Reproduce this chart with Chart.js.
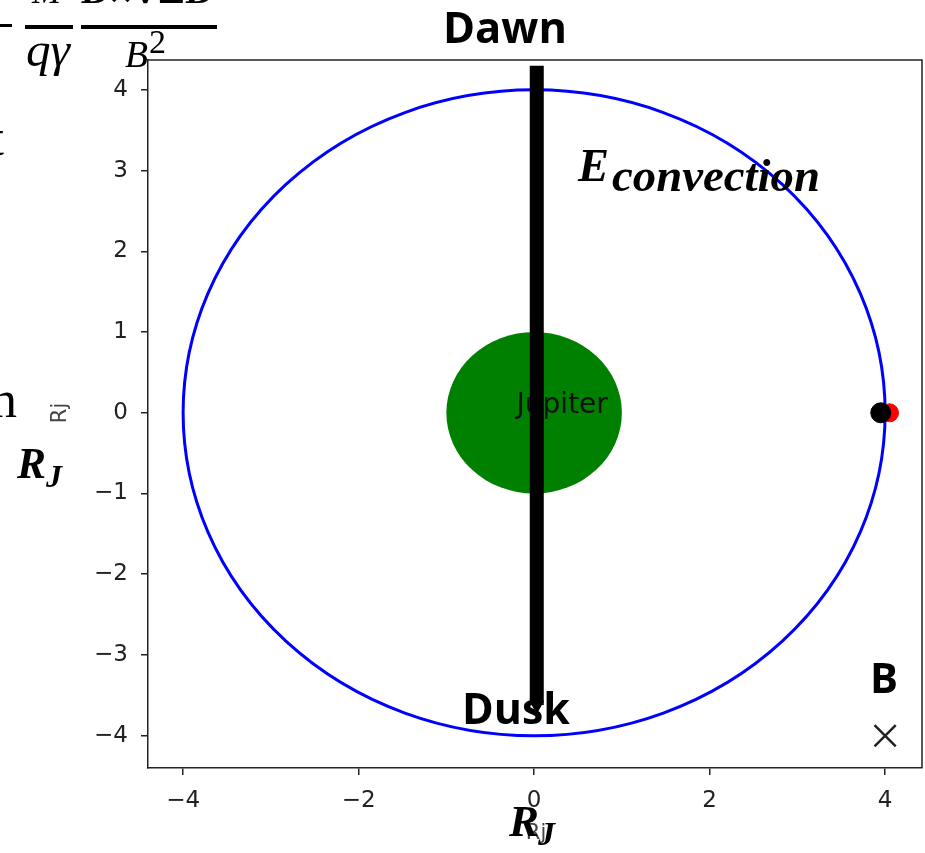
<!DOCTYPE html>
<html>
<head>
<meta charset="utf-8">
<script src="https://cdn.jsdelivr.net/npm/chart.js@4/dist/chart.umd.min.js"></script>
<style>
    body { margin: 0; background: #fff; }
    canvas { display: block; }
</style>
</head>
<body>
<canvas id="myChart" width="925" height="853"></canvas>
<script>
// axis ticks
const xTicks = [-4, -2, 0, 2, 4];
const yTicks = [-4, -3, -2, -1, 0, 1, 2, 3, 4];

// orbit (blue) and planet (green), radius in Rj
const orbitRadius = [4];
const jupiterRadius = [1];
const jupiterLabel = ['Jupiter'];
const jupiterLabelPos = [-0.2, 0];

// spacecraft position markers
const probeX = [3.95];
const probeY = [0];
const trailX = [4.05];
const trailY = [0];

// dawn -> dusk convection arrow
const arrowX = [0.03, 0.03];
const arrowY = [4.3, -3.62];

// B field marker (into page)
const bX = [4];
const bY = [-4];

function pairs(xs, ys) {
    return xs.map((x, i) => ({ x: x, y: ys[i] }));
}

function fmtTick(v) {
    return v < 0 ? '\u2212' + Math.abs(v) : String(v);
}

// write text scaled so it spans the given width
function fitText(ctx, text, left, baseline, width, prefix, family) {
    ctx.font = prefix + ' 100px ' + family;
    let size = 100 * width / ctx.measureText(text).width;
    ctx.font = prefix + ' ' + size.toFixed(1) + 'px ' + family;
    ctx.textAlign = 'left';
    ctx.textBaseline = 'alphabetic';
    ctx.fillText(text, left, baseline);
}

const bodies = {
    id: 'bodies',
    beforeDatasetsDraw(chart) {
        const ctx = chart.ctx;
        const xs = chart.scales.x, ys = chart.scales.y;
        const a = chart.chartArea;
        const cx = xs.getPixelForValue(0), cy = ys.getPixelForValue(0);
        ctx.save();
        ctx.beginPath();
        ctx.rect(a.left, a.top, a.right - a.left, a.bottom - a.top);
        ctx.clip();

        // Jupiter
        let rx = xs.getPixelForValue(jupiterRadius[0]) - cx;
        let ry = cy - ys.getPixelForValue(jupiterRadius[0]);
        ctx.beginPath();
        ctx.ellipse(cx, cy, rx, ry, 0, 0, Math.PI * 2);
        ctx.fillStyle = '#008000';
        ctx.fill();

        // orbit
        rx = xs.getPixelForValue(orbitRadius[0]) - cx;
        ry = cy - ys.getPixelForValue(orbitRadius[0]);
        ctx.beginPath();
        ctx.ellipse(cx, cy, rx, ry, 0, 0, Math.PI * 2);
        ctx.strokeStyle = '#0000ff';
        ctx.lineWidth = 3;
        ctx.stroke();

        // label
        ctx.fillStyle = '#111';
        ctx.font = '28px "DejaVu Sans"';
        ctx.textAlign = 'left';
        ctx.textBaseline = 'alphabetic';
        ctx.fillText(jupiterLabel[0], xs.getPixelForValue(jupiterLabelPos[0]), ys.getPixelForValue(jupiterLabelPos[1]));
        ctx.restore();
    }
};

const overlay = {
    id: 'overlay',
    afterDraw(chart) {
        const ctx = chart.ctx;
        const a = chart.chartArea;
        ctx.save();

        // closing frame (top + right)
        ctx.strokeStyle = '#222';
        ctx.lineWidth = 1.5;
        ctx.beginPath();
        ctx.moveTo(a.left, a.top);
        ctx.lineTo(a.right, a.top);
        ctx.lineTo(a.right, a.bottom);
        ctx.stroke();

        // axis labels
        ctx.fillStyle = '#444';
        ctx.font = '21px "DejaVu Sans"';
        ctx.textAlign = 'center';
        ctx.textBaseline = 'middle';
        ctx.fillText('Rj', 536, 834);
        ctx.translate(61, 413);
        ctx.rotate(-Math.PI / 2);
        ctx.fillText('Rj', 0, 0);
        ctx.setTransform(1, 0, 0, 1, 0, 0);

        ctx.fillStyle = '#000';
        const sans = '"Open Sans"';
        const serif = '"Liberation Serif"';
        fitText(ctx, 'Dawn', 443, 43, 124, 'bold', sans);
        fitText(ctx, 'Dusk', 462, 724, 108, 'bold', sans);
        fitText(ctx, 'B', 870, 693, 28, 'bold', sans);

        fitText(ctx, 'E', 578, 181, 31, 'italic bold', serif);
        fitText(ctx, 'convection', 612, 191, 208, 'italic bold', serif);

        fitText(ctx, 'R', 17, 478, 29, 'italic bold', serif);
        fitText(ctx, 'J', 46, 487, 16, 'italic bold', serif);
        fitText(ctx, 'R', 509, 836, 30, 'italic bold', serif);
        fitText(ctx, 'J', 538, 845, 17, 'italic bold', serif);

        // equation fragment cut at the top
        ctx.fillRect(0, 24, 12, 3);
        ctx.fillRect(25, 25, 48, 4);
        ctx.fillRect(81, 25, 136, 4);
        fitText(ctx, 'M', 32, 3, 29, 'italic', serif);
        fitText(ctx, 'B\u00d7\u2207\u22a5B', 82, 3, 130, 'italic bold', '"DejaVu Serif"');
        fitText(ctx, 'q\u03b3', 26, 66, 44, 'italic', serif);
        fitText(ctx, 'B', 125, 67, 23, 'italic', serif);
        fitText(ctx, '2', 149, 53, 17, '', serif);

        // clipped words at the left edge
        ctx.font = '52px ' + serif;
        ctx.textAlign = 'right';
        ctx.fillText('t', 4, 155);
        ctx.fillText('n', 17, 417);
        ctx.restore();
    }
};

const config = {
    type: 'scatter',
    data: {
        datasets: [
            {
                label: 'probe',
                data: pairs(probeX, probeY),
                backgroundColor: '#000',
                borderColor: '#000',
                pointRadius: 10,
                pointHoverRadius: 10,
                order: 1
            },
            {
                label: 'trail',
                data: pairs(trailX, trailY),
                backgroundColor: '#ff0000',
                borderColor: '#ff0000',
                pointRadius: 9,
                pointHoverRadius: 9,
                order: 2
            },
            {
                label: 'B',
                data: pairs(bX, bY),
                pointStyle: 'crossRot',
                borderColor: '#222',
                borderWidth: 2.5,
                pointRadius: 15,
                order: 3
            },
            {
                label: 'arrow',
                data: pairs(arrowX, arrowY),
                showLine: true,
                borderColor: '#000',
                backgroundColor: '#000',
                borderWidth: 14,
                borderCapStyle: 'butt',
                pointStyle: 'triangle',
                pointRotation: 180,
                pointRadius: [0, 8],
                pointBorderWidth: 1,
                order: 0
            }
        ]
    },
    options: {
        responsive: false,
        animation: false,
        devicePixelRatio: 1,
        layout: { autoPadding: false, padding: { top: 60, right: 3, left: 0, bottom: 0 } },
        plugins: {
            legend: { display: false },
            tooltip: { enabled: false }
        },
        scales: {
            x: {
                type: 'linear',
                min: -4.4,
                max: 4.42,
                afterBuildTicks: (s) => { s.ticks = xTicks.map(v => ({ value: v })); },
                afterFit: (s) => { s.height = 85; s.paddingLeft = 0; s.paddingRight = 0; },
                border: { display: true, color: '#222', width: 1.5 },
                grid: { drawOnChartArea: false, drawTicks: true, tickLength: 7, color: '#222', lineWidth: 1.5 },
                ticks: {
                    autoSkip: false,
                    maxRotation: 0,
                    padding: 12,
                    color: '#222',
                    font: { family: '"DejaVu Sans"', size: 23 },
                    callback: (v) => fmtTick(v)
                }
            },
            y: {
                type: 'linear',
                min: -4.4,
                max: 4.37,
                afterBuildTicks: (s) => { s.ticks = yTicks.map(v => ({ value: v })); },
                afterFit: (s) => { s.width = 148; s.paddingTop = 0; s.paddingBottom = 0; },
                border: { display: true, color: '#222', width: 1.5 },
                grid: { drawOnChartArea: false, drawTicks: true, tickLength: 7, color: '#222', lineWidth: 1.5 },
                ticks: {
                    autoSkip: false,
                    padding: 13,
                    color: '#222',
                    font: { family: '"DejaVu Sans"', size: 23 },
                    callback: (v) => fmtTick(v)
                }
            }
        }
    },
    plugins: [bodies, overlay]
};

const myChart = new Chart(
    document.getElementById('myChart'),
    config
);
</script>
</body>
</html>
